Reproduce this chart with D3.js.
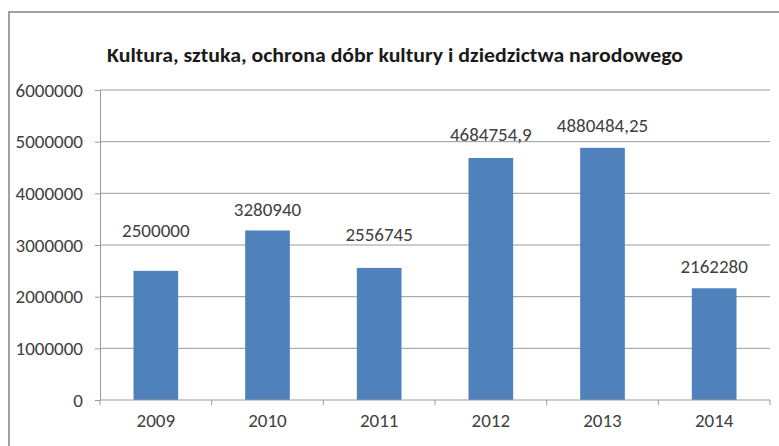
<!DOCTYPE html>
<html><head><meta charset="utf-8">
<script src="https://cdn.jsdelivr.net/npm/d3@7"></script>
<style>
html,body{margin:0;padding:0;background:#fff;}
svg{display:block;}
text{font-family:"Liberation Sans Narrow","Carlito","Calibri","Open Sans",sans-serif;}
</style></head>
<body>
<svg id="chart" width="779" height="446"></svg>
<script>
const title = "Kultura, sztuka, ochrona dóbr kultury i dziedzictwa narodowego";
const years = ["2009","2010","2011","2012","2013","2014"];
const values = [2500000, 3280940, 2556745, 4684754.9, 4880484.25, 2162280];
const valueLabels = ["2500000","3280940","2556745","4684754,9","4880484,25","2162280"];
const yTicks = [0,1000000,2000000,3000000,4000000,5000000,6000000];
// manual label lifts above bar top (px), as placed in the original
const labelLift = [34, 14, 27, 17, 16, 15];

const svg = d3.select("#chart");
const plot = {left:100, right:770, top:90, bottom:400};

// outer frame
svg.append("rect").attr("x",9).attr("y",12).attr("width",800).attr("height",460)
  .attr("fill","#fff").attr("stroke","#8a8a8a").attr("stroke-width",1.6);

const x = d3.scaleBand().domain(years).range([plot.left, plot.right]).paddingInner(0.6).paddingOuter(0.3);
const xb = d3.scaleBand().domain(years).range([plot.left, plot.right]);
const y = d3.scaleLinear().domain([0,6000000]).range([plot.bottom, plot.top]);

// gridlines
svg.append("g").selectAll("line").data(yTicks.filter(d=>d>0)).join("line")
  .attr("x1",plot.left).attr("x2",plot.right)
  .attr("y1",d=>y(d)).attr("y2",d=>y(d))
  .attr("stroke","#9a9a9a").attr("stroke-width",1);

// y axis
const yAxis = svg.append("g").attr("transform",`translate(${plot.left},0)`)
  .call(d3.axisLeft(y).tickValues(yTicks).tickFormat(d3.format("d")).tickSize(5).tickPadding(12));
yAxis.select(".domain").attr("stroke","#9a9a9a");
yAxis.selectAll(".tick line").attr("stroke","#9a9a9a");
yAxis.selectAll(".tick text").attr("fill","#404040").attr("font-size",19)
  .style("font-family","'Liberation Sans Narrow','Carlito','Calibri','Open Sans',sans-serif");

// bars
svg.append("g").selectAll("rect").data(values).join("rect")
  .attr("x",(d,i)=>x(years[i])).attr("width",x.bandwidth())
  .attr("y",d=>y(d)).attr("height",d=>plot.bottom-y(d))
  .attr("fill","#4f81bd");

// x axis
const xAxisG = svg.append("g").attr("transform",`translate(0,${plot.bottom})`);
xAxisG.append("line").attr("x1",plot.left).attr("x2",plot.right).attr("y1",0).attr("y2",0)
  .attr("stroke","#9a9a9a");
const bounds = years.map(d=>xb(d)).concat([plot.right]);
xAxisG.selectAll("line.tk").data(bounds).join("line").attr("class","tk")
  .attr("x1",d=>d).attr("x2",d=>d).attr("y1",0).attr("y2",5).attr("stroke","#9a9a9a");
xAxisG.selectAll("text").data(years).join("text")
  .attr("x",d=>xb(d)+xb.bandwidth()/2).attr("y",27)
  .attr("text-anchor","middle").attr("fill","#404040").attr("font-size",19).text(d=>d);

// data labels
svg.append("g").selectAll("text").data(values).join("text")
  .attr("x",(d,i)=>xb(years[i])+xb.bandwidth()/2)
  .attr("y",(d,i)=>y(d)-labelLift[i])
  .attr("text-anchor","middle").attr("fill","#404040").attr("font-size",19)
  .text((d,i)=>valueLabels[i]);

// title
svg.append("text").attr("x",395).attr("y",62).attr("text-anchor","middle")
  .attr("font-size",21).attr("font-weight","bold").attr("fill","#1a1a1a")
  .attr("textLength",576).attr("lengthAdjust","spacingAndGlyphs")
  .text(title);
</script>
</body></html>
